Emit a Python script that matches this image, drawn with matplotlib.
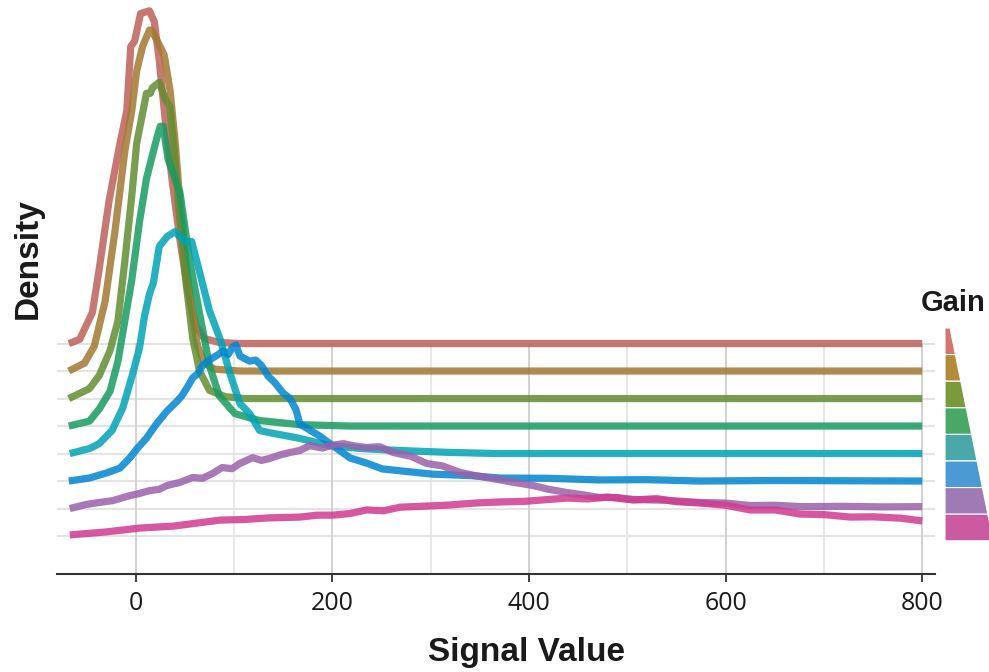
import matplotlib
matplotlib.use("Agg")
import matplotlib.pyplot as plt
from matplotlib.patches import Polygon
from matplotlib.ticker import MultipleLocator

# gain levels, top ridge first
gains = ["g1", "g2", "g3", "g4", "g5", "g6", "g7", "g8"]
line_colors = ["#be605a", "#a27831", "#628d31", "#179b60", "#00a2b5", "#0086d1", "#9960ab", "#d13a8f"]
key_colors = ["#d4756f", "#b48a3c", "#7a9a3c", "#4aa866", "#4aa8a8", "#4c9ad4", "#a07ab4", "#cc5aa0"]

# signal value / density (ridge height units)
x_red = [-68, -57, -44, -37, -27, -16, -9, -5, -1, 5, 14, 19, 24, 30, 37, 45, 53, 61, 70, 85, 106, 800]
y_red = [0, 0.15, 1.13, 2.73, 5.2, 7.27, 8.47, 10.8, 11.0, 12.0, 12.1, 11.7, 10.3, 8.15, 5.96, 3.78, 1.93, 0.65, 0.18, 0.04, 0, 0]

x_brown = [-68, -52, -42, -31, -21, -11, -4, 1, 7, 14, 16, 22, 29, 35, 40, 45, 51, 57, 63, 70, 80, 106, 800]
y_brown = [0, 0.29, 0.91, 2.55, 5.1, 8.0, 9.45, 10.9, 11.8, 12.4, 12.4, 12.0, 11.5, 10.2, 8.4, 6.2, 4.0, 2.2, 0.9, 0.29, 0.07, 0, 0]

x_olive = [-68, -47, -37, -26, -18, -11, -4, 1, 11, 15, 17, 24, 30, 35, 40, 45, 51, 58, 65, 75, 91, 111, 800]
y_olive = [0, 0.36, 0.84, 1.75, 2.83, 5.0, 7.35, 9.27, 11.1, 11.1, 11.3, 11.5, 10.9, 10.6, 8.7, 6.5, 4.3, 2.2, 1.0, 0.3, 0.07, 0, 0]

x_green = [-68, -47, -37, -26, -18, -4, 4, 11, 21, 25, 28, 33, 38, 45, 55, 65, 75, 85, 101, 126, 167, 218, 800]
y_green = [0, 0.18, 0.62, 1.27, 2.36, 5.3, 7.45, 9.0, 10.4, 10.9, 10.9, 9.7, 9.2, 8.5, 6.0, 4.1, 2.2, 1.1, 0.45, 0.2, 0.05, 0, 0]

x_teal = [-67, -47, -37, -24, -13, -3, 4, 9, 14, 18, 24, 32, 40, 46, 50, 57, 65, 75, 86, 96, 106, 116, 126, 136, 167, 197, 230, 269, 320, 370, 800]
y_teal = [0, 0.18, 0.36, 0.84, 1.67, 2.9, 3.85, 5.0, 5.8, 6.2, 7.53, 7.89, 8.07, 7.85, 7.71, 7.71, 6.6, 5.2, 4.15, 2.9, 1.82, 1.45, 0.84, 0.76, 0.55, 0.29, 0.18, 0.11, 0.04, 0, 0]

x_blue = [-68, -47, -30, -16, -6, 1, 11, 21, 32, 42, 47, 52, 58, 63, 68, 73, 78, 84, 89, 94, 98, 102, 106, 111, 116, 122, 128, 135, 141, 150, 157, 163, 167, 175, 187, 200, 218, 235, 251, 275, 302, 340, 370, 420, 472, 520, 574, 650, 800]
y_blue = [0, 0.11, 0.29, 0.47, 0.84, 1.16, 1.56, 2.07, 2.55, 2.9, 3.1, 3.38, 3.75, 3.9, 4.2, 4.35, 4.47, 4.6, 4.73, 4.6, 4.84, 4.95, 4.55, 4.45, 4.36, 4.4, 4.2, 3.8, 3.6, 3.2, 3.0, 2.6, 2.07, 1.9, 1.64, 1.3, 0.84, 0.65, 0.44, 0.35, 0.25, 0.2, 0.11, 0.1, 0.04, 0.05, 0.0, 0.02, 0]

x_purple = [-67, -50, -37, -23, -6, 4, 14, 24, 32, 45, 58, 68, 78, 88, 98, 106, 119, 128, 136, 147, 157, 167, 177, 190, 200, 211, 222, 235, 248, 262, 280, 296, 312, 330, 345, 357, 380, 404, 420, 439, 455, 472, 490, 506, 540, 574, 600, 625, 650, 676, 720, 760, 800]
y_purple = [0, 0.15, 0.22, 0.29, 0.47, 0.55, 0.65, 0.7, 0.84, 0.95, 1.13, 1.1, 1.27, 1.49, 1.45, 1.64, 1.85, 1.75, 1.82, 1.95, 2.04, 2.11, 2.29, 2.2, 2.3, 2.36, 2.28, 2.22, 2.25, 2.04, 1.9, 1.64, 1.55, 1.31, 1.2, 1.13, 0.98, 0.84, 0.7, 0.58, 0.5, 0.4, 0.4, 0.33, 0.3, 0.22, 0.2, 0.11, 0.12, 0.07, 0.08, 0.06, 0.07]

x_pink = [-67, -30, 4, 38, 62, 86, 110, 135, 167, 185, 201, 218, 235, 252, 269, 290, 320, 345, 370, 395, 420, 439, 460, 480, 506, 530, 550, 574, 600, 625, 650, 676, 700, 727, 750, 778, 800]
y_pink = [0.04, 0.15, 0.29, 0.36, 0.47, 0.58, 0.6, 0.66, 0.69, 0.76, 0.76, 0.82, 0.95, 0.92, 1.05, 1.08, 1.13, 1.2, 1.24, 1.26, 1.33, 1.38, 1.35, 1.42, 1.31, 1.36, 1.25, 1.2, 1.12, 0.95, 0.95, 0.8, 0.78, 0.69, 0.7, 0.65, 0.55]

xs = [x_red, x_brown, x_olive, x_green, x_teal, x_blue, x_purple, x_pink]
ys = [y_red, y_brown, y_olive, y_green, y_teal, y_blue, y_purple, y_pink]

xticks = [0, 200, 400, 600, 800]

W, H = 989, 672
fig = plt.figure(figsize=(W / 100, H / 100), dpi=100)
ax = fig.add_axes([57 / W, 1 - 574 / H, (935 - 57) / W, (574 - 343) / H])

n = len(gains)
for i in range(n):
    base = n - 1 - i
    ax.axhline(base, color="#e4e4e4", lw=1.5, zorder=0)
for i in range(n):
    base = n - 1 - i
    ax.plot(xs[i], [v + base for v in ys[i]], color=line_colors[i], lw=5.2, alpha=0.85,
            solid_capstyle="butt", solid_joinstyle="round", clip_on=False, zorder=3 + i)

ax.set_xlim(-80, 813)
ax.set_ylim(-1.38, 7.02)
ax.xaxis.set_major_locator(MultipleLocator(200))
ax.xaxis.set_minor_locator(MultipleLocator(100))
ax.set_xticks(xticks)
ax.grid(True, axis="x", which="major", color="#cfcfcf", lw=1.3, zorder=0)
ax.grid(True, axis="x", which="minor", color="#e6e6e6", lw=1.3, zorder=0)
ax.set_yticks([])
for s in ["top", "right", "left"]:
    ax.spines[s].set_visible(False)
ax.spines["bottom"].set_color("#333333")
ax.spines["bottom"].set_linewidth(1.5)
ax.tick_params(axis="x", which="major", length=6, width=1.3, color="#333333", pad=6,
               labelsize=18, labelcolor="#1a1a1a")
ax.tick_params(axis="x", which="minor", length=0)
for lab in ax.get_xticklabels():
    lab.set_fontfamily("Open Sans")

fig.text(28 / W, 1 - 259 / H, "Density", rotation=90, ha="center", va="center",
         fontsize=24, fontweight="bold", family="Liberation Sans", color="#1a1a1a")
fig.text(527 / W, 1 - 652 / H, "Signal Value", ha="center", va="center",
         fontsize=24, fontweight="bold", family="Liberation Sans", color="#1a1a1a")
fig.text(953 / W, 1 - 303 / H, "Gain", ha="center", va="center",
         fontsize=21, fontweight="bold", family="Liberation Sans", color="#1a1a1a")

# legend keys: stacked wedge pieces
top, kh, left = 328, 26.6, 945
def right_edge(y):
    return 950 + (y - 328) * 38 / 187
for i in range(n):
    y0 = top + i * kh
    y1 = y0 + kh
    pts = [(left, y0), (right_edge(y0), y0), (right_edge(y1), y1), (left, y1)]
    pts = [(px / W, 1 - py / H) for px, py in pts]
    fig.add_artist(Polygon(pts, closed=True, facecolor=key_colors[i], edgecolor="white",
                           lw=0.8, transform=fig.transFigure))

fig.savefig("out.png", dpi=100)
